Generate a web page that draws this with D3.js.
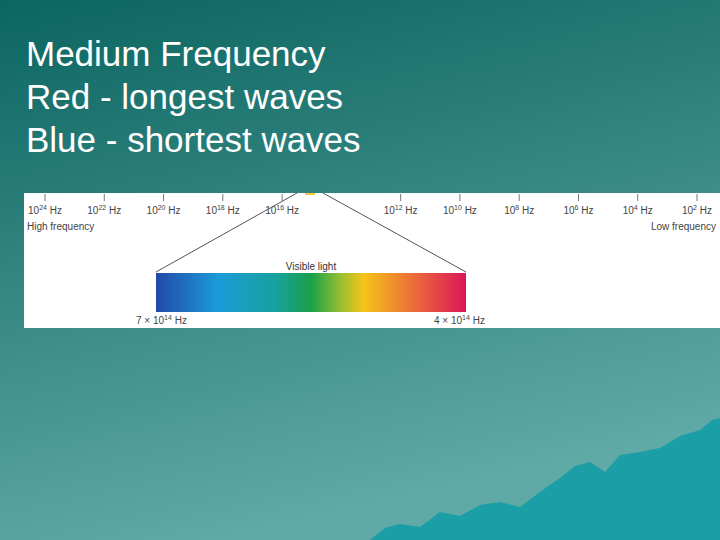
<!DOCTYPE html>
<html><head><meta charset="utf-8">
<script src="https://cdn.jsdelivr.net/npm/d3@7"></script>
<style>body{margin:0}svg{display:block}</style>
</head><body>
<script>
var titleLines = ["Medium Frequency", "Red - longest waves", "Blue - shortest waves"];
var exponents = [24, 22, 20, 18, 16, 14, 12, 10, 8, 6, 4, 2];
var visibleRange = [7e14, 4e14];
var visibleLabels = ["7 \u00d7 10", "4 \u00d7 10"];
var spectrumStops = [
	[0, "#2249a8"], [0.2, "#1b9bd8"], [0.38, "#17a1a0"], [0.5, "#19a04a"],
	[0.6, "#9cc030"], [0.67, "#f5c417"], [0.8, "#ee7d34"], [1, "#dc1558"]
];
var mountain = [[370,540],[385,528],[400,524],[420,527],[440,512],[460,516],[480,505],[500,502],[520,507],[540,492],[560,478],[575,466],[590,462],[605,472],[620,455],[640,452],[660,448],[680,436],[700,430],[712,420],[720,418],[720,540]];

var svg = d3.select("body").append("svg").attr("width", 720).attr("height", 540);
var defs = svg.append("defs");
var bg = defs.append("linearGradient").attr("id", "bg").attr("x1", 0).attr("y1", 0).attr("x2", 0.3).attr("y2", 1);
bg.append("stop").attr("offset", 0).attr("stop-color", "#0b6560");
bg.append("stop").attr("offset", 1).attr("stop-color", "#5fa9a6");
svg.append("rect").attr("width", 720).attr("height", 540).attr("fill", "url(#bg)");
svg.append("path").attr("d", d3.line()(mountain)).attr("fill", "#1b9ea6");

svg.selectAll("text.title").data(titleLines).join("text")
	.attr("x", 26).attr("y", function(d, i) { return 66 + i * 43; })
	.attr("fill", "#ffffff").style("font", "35px 'Liberation Sans', Arial, sans-serif")
	.attr("textLength", null)
	.text(function(d) { return d; });

// white panel
svg.append("rect").attr("x", 24).attr("y", 193).attr("width", 696).attr("height", 135).attr("fill", "#ffffff");

var x = d3.scaleLog().domain([1e24, 1e2]).range([45, 697]);
var f = "10px 'Liberation Sans', Arial, sans-serif";
var ticks = svg.append("g");
exponents.forEach(function(e) {
	if (e === 14) return;
	var px = x(Math.pow(10, e));
	ticks.append("line").attr("x1", px).attr("x2", px).attr("y1", 194).attr("y2", 201).attr("stroke", "#777");
	var t = ticks.append("text").attr("x", px).attr("y", 214).attr("text-anchor", "middle")
		.attr("fill", "#444").style("font", f);
	t.append("tspan").text("10");
	t.append("tspan").attr("dy", -4).style("font-size", "7px").text(e);
	t.append("tspan").attr("dy", 4).text(" Hz");
});
svg.append("text").attr("x", 27).attr("y", 230).attr("fill", "#444").style("font", f).text("High frequency");
svg.append("text").attr("x", 716).attr("y", 230).attr("text-anchor", "end").attr("fill", "#444").style("font", f).text("Low frequency");

var vis = d3.scaleLinear().domain(visibleRange).range([156, 466]);
var sg = defs.append("linearGradient").attr("id", "spec");
spectrumStops.forEach(function(s) { sg.append("stop").attr("offset", s[0]).attr("stop-color", s[1]); });
svg.append("rect").attr("x", vis(visibleRange[0])).attr("y", 273)
	.attr("width", vis(visibleRange[1]) - vis(visibleRange[0])).attr("height", 39).attr("fill", "url(#spec)");
var apex = (vis(visibleRange[0]) + vis(visibleRange[1])) / 2;
svg.append("path").attr("fill", "none").attr("stroke", "#555").attr("stroke-width", 1)
	.attr("d", d3.line()([[vis(visibleRange[0]), 272], [apex - 14, 193]]));
svg.append("path").attr("fill", "none").attr("stroke", "#555").attr("stroke-width", 1)
	.attr("d", d3.line()([[vis(visibleRange[1]), 272], [apex + 12, 193]]));
svg.append("rect").attr("x", apex - 6).attr("y", 193).attr("width", 10).attr("height", 2).attr("fill", "#f3c640");
svg.append("text").attr("x", apex).attr("y", 270)
	.attr("text-anchor", "middle").attr("fill", "#333").style("font", f).text("Visible light");
visibleLabels.forEach(function(l, i) {
	var t = svg.append("text").attr("x", vis(visibleRange[i]) + (i ? -32 : -20)).attr("y", 324)
		.attr("fill", "#444").style("font", f);
	t.append("tspan").text(l);
	t.append("tspan").attr("dy", -4).style("font-size", "7px").text("14");
	t.append("tspan").attr("dy", 4).text(" Hz");
});
</script>
</body></html>
